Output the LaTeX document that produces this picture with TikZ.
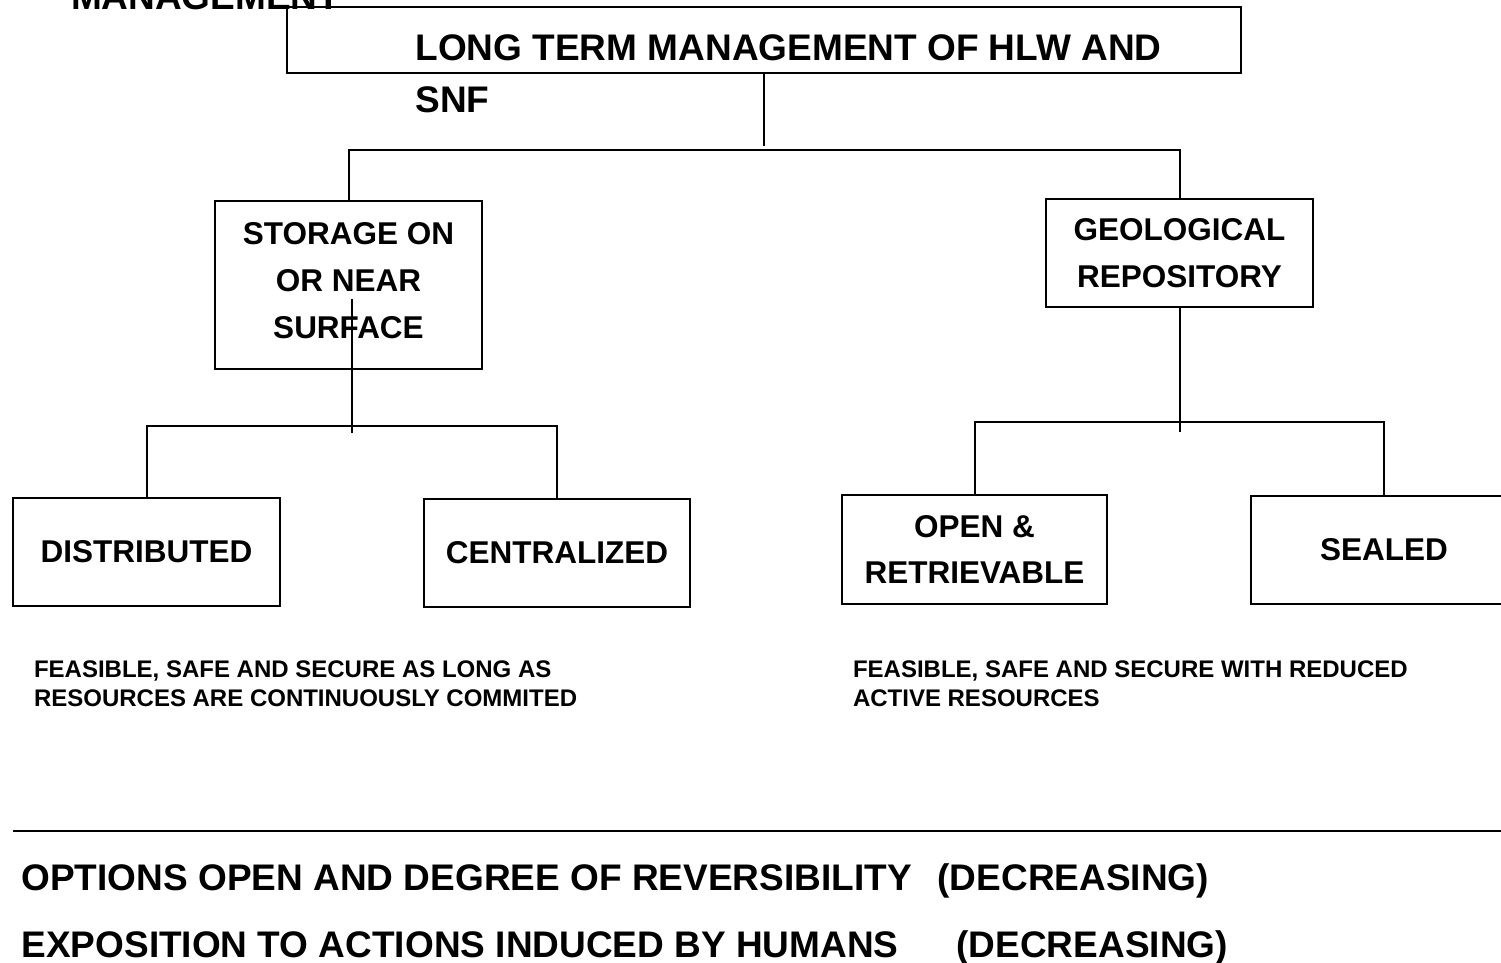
\documentclass[tikz,border=0pt]{standalone}
\usepackage{fontspec}
\setmainfont{Liberation Sans}
\begin{document}
\begin{tikzpicture}[x=1pt,y=-1pt,line width=2pt,
  box/.style={draw,inner sep=0pt,align=center,font=\fontsize{31.5}{46.5}\selectfont\bfseries},
  big/.style={inner sep=0pt,align=left,font=\fontsize{37}{52}\selectfont\bfseries},
  small/.style={inner sep=0pt,align=left,font=\fontsize{24}{29}\selectfont\bfseries}]
\useasboundingbox (0,0) rectangle (1501,963);
\clip (0,0) rectangle (1501,963);
% top
\node[draw,inner sep=0pt,minimum width=954,minimum height=66] (top) at (764,40) {};
\node[big,anchor=base west] (mgmt) at (70,10) {MANAGEMENT};
\node[big,anchor=north west] (title) at (414.5,34) {LONG TERM MANAGEMENT OF HLW AND\\SNF};
% level 2
\node[box,minimum width=267,minimum height=168,text depth=9pt] (stor) at (348.5,285) {STORAGE ON\\OR NEAR\\SURFACE};
\node[box,minimum width=267,minimum height=108] (geo) at (1179.5,253) {GEOLOGICAL\\REPOSITORY};
% level 3
\node[box,minimum width=267,minimum height=108] (dist) at (146.5,552) {DISTRIBUTED};
\node[box,minimum width=266,minimum height=108] (cent) at (557,553) {CENTRALIZED};
\node[box,minimum width=265,minimum height=109] (open) at (974.5,549.5) {OPEN \&\\RETRIEVABLE};
\node[box,minimum width=266,minimum height=108] (seal) at (1384,550) {SEALED};
% connectors
\coordinate (tj) at (764,146);
\draw (top.south) -- (tj);
\draw (stor.north) -- ++(0,-50) -| (geo.north);
\coordinate (ss) at ([xshift=3pt,yshift=-14pt]stor.center);
\coordinate (sj) at (351.5,433);
\draw (ss) -- (sj);
\draw (dist.north) -- ++(0,-71) -| (cent.north);
\draw (geo.south) -- ++(0,124);
\draw (open.north) -- ++(0,-72) -| (seal.north);
% notes
\node[small,anchor=north west] (n1) at (33,659.4) {FEASIBLE, SAFE AND SECURE AS LONG AS\\RESOURCES ARE CONTINUOUSLY COMMITED};
\node[small,anchor=north west] (n2) at (852,659.4) {FEASIBLE, SAFE AND SECURE WITH REDUCED\\ACTIVE RESOURCES};
% bottom
\coordinate (la) at (13,831);
\coordinate (lb) at (1510,831);
\draw (la) -- (lb);
\node[big,anchor=base west] (opt) at (20.5,890) {OPTIONS OPEN AND DEGREE OF REVERSIBILITY\hspace{26pt}(DECREASING)};
\node[big,anchor=base west] (exp) at (20.5,957) {EXPOSITION TO ACTIONS INDUCED BY HUMANS\hspace{58pt}(DECREASING)};
\end{tikzpicture}
\end{document}
